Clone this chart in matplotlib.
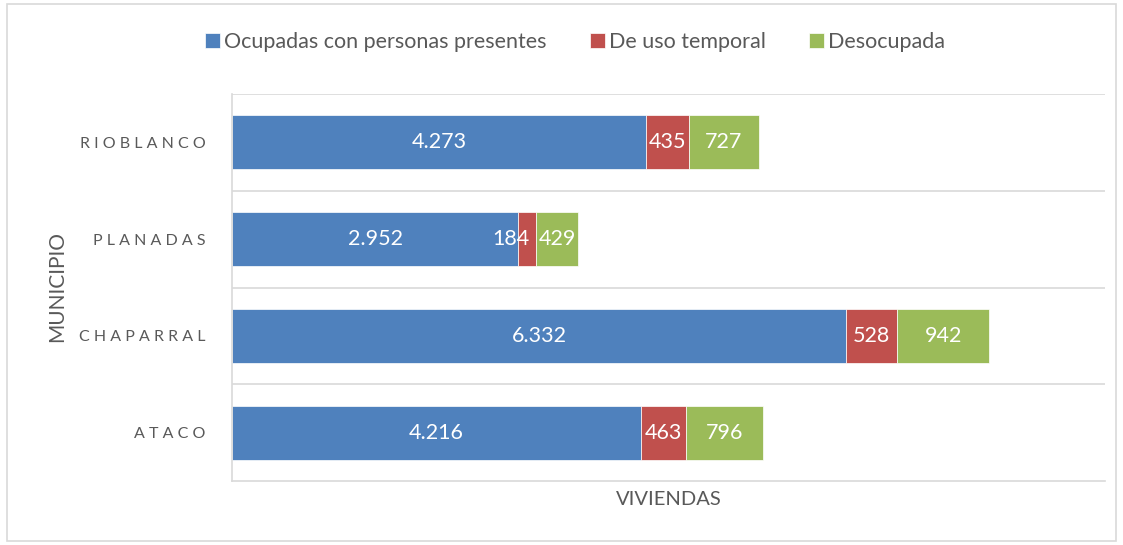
import numpy as np
import matplotlib.pyplot as plt
from matplotlib.patches import Rectangle

plt.rcParams['font.family'] = ['Lato', 'DejaVu Sans']

municipios = ["ATACO", "CHAPARRAL", "PLANADAS", "RIOBLANCO"]
ocupadas = [4216, 6332, 2952, 4273]
temporal = [463, 528, 184, 435]
desocupada = [796, 942, 429, 727]
series_names = ["Ocupadas con personas presentes", "De uso temporal", "Desocupada"]
colores = ['#4F81BD', '#C0504D', '#9BBB59']

def fmt(v):
    return "{:,}".format(v).replace(",", ".")

fig = plt.figure(figsize=(11.23, 5.45), dpi=100)
ax = fig.add_axes([232/1123, 1-481/545, (1105-232)/1123, (481-94)/545])

y = np.arange(len(municipios))
left = np.zeros(len(municipios))
for vals, name, c in zip([ocupadas, temporal, desocupada], series_names, colores):
    vals = np.array(vals)
    ax.barh(y, vals, left=left, height=0.56, color=c, label=name,
            edgecolor='white', linewidth=0.5)
    for yi, l, v in zip(y, left, vals):
        if v < 300:
            # label wider than the segment: Excel pushes it to the left
            ax.text(l + v - 70, yi, fmt(v), ha='right', va='center', color='white', fontsize=15.5)
        else:
            ax.text(l + v/2, yi, fmt(v), ha='center', va='center', color='white', fontsize=15.5)
    left = left + vals

ax.set_xlim(0, 9000)
ax.set_ylim(-0.5, len(municipios) - 0.5)
ax.set_xticks([])
ax.set_yticks(y)
ax.set_yticklabels([" ".join(m) for m in municipios], fontsize=11.5, color='#595959')
ax.tick_params(axis='y', length=0, pad=19)
for b in np.arange(0.5, len(municipios), 1.0):
    ax.axhline(b, color='#d9d9d9', lw=1.2, zorder=0)
for s in ['top', 'right']:
    ax.spines[s].set_visible(False)
for s in ['left', 'bottom']:
    ax.spines[s].set_color('#d9d9d9')
    ax.spines[s].set_linewidth(1.2)

ax.set_xlabel("VIVIENDAS", fontsize=14.5, color='#595959', labelpad=7)
fig.text(57/1123, 1-287/545, "MUNICIPIO", rotation=90, ha='center', va='center',
         fontsize=15, color='#595959')

fig.legend(loc='center', bbox_to_anchor=(575/1123, 1-42/545), ncol=3, frameon=False,
           fontsize=15.5, handlelength=0.7, handleheight=0.7, handletextpad=0.2,
           columnspacing=2.0, labelcolor='#595959')

fig.patches.append(Rectangle((7/1123, 4/545), 1109/1123, 537/545, transform=fig.transFigure,
                             fill=False, edgecolor='#d9d9d9', lw=1.2))

fig.savefig("out.png", dpi=100)
